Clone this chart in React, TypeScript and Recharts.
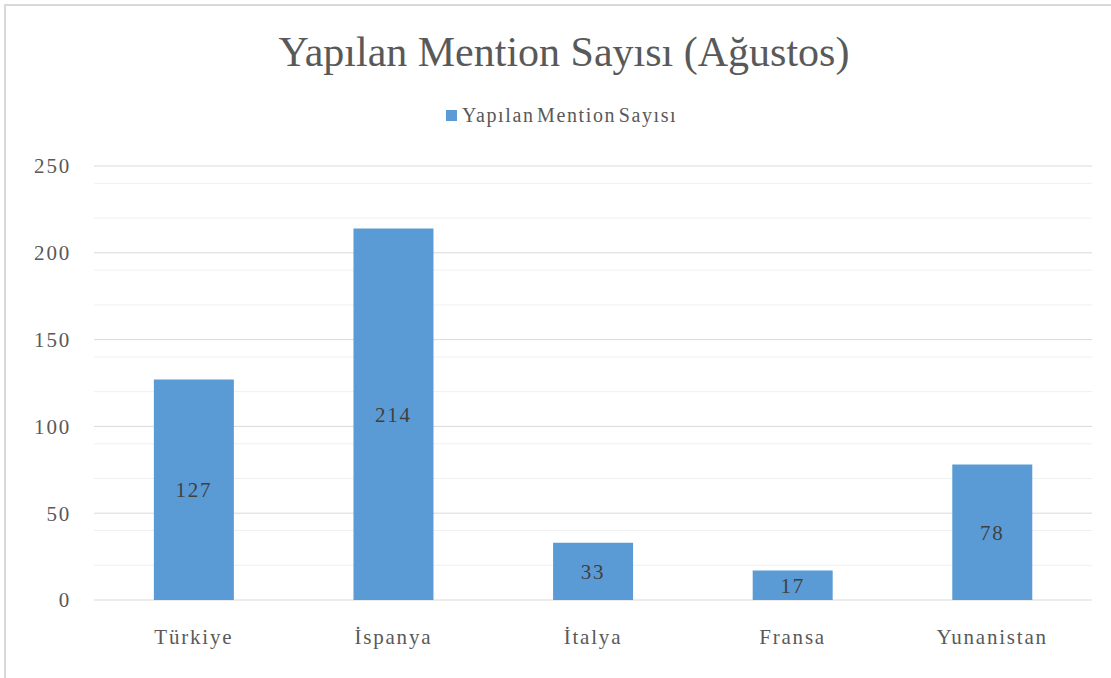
import React from "react";
import { BarChart, Bar, XAxis, YAxis, CartesianGrid, LabelList } from "recharts";

const categories = ["Türkiye", "İspanya", "İtalya", "Fransa", "Yunanistan"];
const mentionValues = [127, 214, 33, 17, 78];
const majorTicks = [0, 50, 100, 150, 200, 250];
const minorTicks = [10, 20, 30, 40, 60, 70, 80, 90, 110, 120, 130, 140, 160, 170, 180, 190, 210, 220, 230, 240];
const seriesName = "Yapılan Mention Sayısı";
const title = "Yapılan Mention Sayısı (Ağustos)";

const data = categories.map((c, i) => ({ name: c, value: mentionValues[i] }));

const FONT = "'Liberation Serif', 'Times New Roman', serif";

export default function App() {
  return (
    <div style={{ position: "fixed", left: 0, top: 0, width: 1111, height: 678, background: "#fff", overflow: "hidden", fontFamily: FONT }}>
      <style>{`.recharts-wrapper text, .recharts-wrapper tspan { font-family: 'Liberation Serif', 'Times New Roman', serif !important; }`}</style>
      <div style={{ position: "absolute", left: 4, top: 4, width: 1120, height: 690, border: "2px solid #d9d9d9", boxSizing: "border-box" }} />
      <div style={{ position: "absolute", left: 0, width: 1128, top: 26, textAlign: "center", fontSize: 42, color: "#595959", lineHeight: "52px" }}>
        {title}
      </div>
      <div style={{ position: "absolute", left: 446, top: 104, display: "flex", alignItems: "center", color: "#595959", fontSize: 20, letterSpacing: 1.6, wordSpacing: -4 }}>
        <span style={{ display: "inline-block", width: 11, height: 11, background: "#5B9BD5", marginRight: 5 }} />
        <span>{seriesName}</span>
      </div>
      <div style={{ position: "absolute", left: 0, top: 0 }}>
        <BarChart width={1111} height={678} data={data} margin={{ top: 166, right: 19, bottom: 0, left: 0 }} barCategoryGap="30%" style={{ fontFamily: FONT }}>
          <CartesianGrid vertical={false} horizontalValues={minorTicks} stroke="#f0f0f0" strokeWidth={1} />
          <CartesianGrid vertical={false} horizontalValues={majorTicks} stroke="#d9d9d9" strokeWidth={1} />
          <XAxis
            dataKey="name"
            height={78}
            axisLine={false}
            tickLine={false}
            interval={0}
            tick={{ fill: "#595959", fontSize: 21, fontFamily: FONT, letterSpacing: 1.8 }}
            tickMargin={23}
          />
          <YAxis
            width={94}
            domain={[0, 250]}
            ticks={majorTicks}
            axisLine={false}
            tickLine={false}
            tick={{ fill: "#595959", fontSize: 21, fontFamily: FONT, letterSpacing: 1.8 }}
            tickMargin={17}
          />
          <Bar dataKey="value" name={seriesName} fill="#5B9BD5" isAnimationActive={false}>
            <LabelList dataKey="value" position="center" fill="#404040" fontSize={21} fontFamily={FONT} style={{ letterSpacing: 1.8 }} />
          </Bar>
        </BarChart>
      </div>
    </div>
  );
}
